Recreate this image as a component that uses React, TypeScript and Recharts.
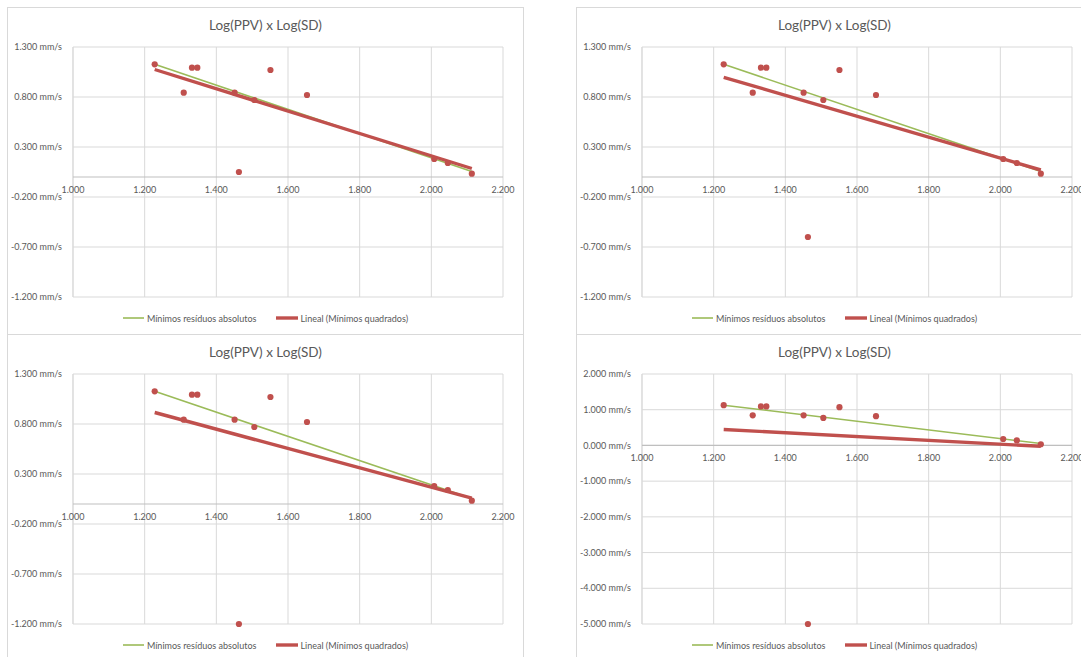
import React from 'react';
import { ScatterChart, Scatter, XAxis, YAxis, CartesianGrid, ReferenceLine, Legend } from 'recharts';

// ---- data ----
const sdLog = [1.228, 1.309, 1.332, 1.347, 1.451, 1.463, 1.506, 1.551, 1.653, 2.008, 2.046, 2.113];
const ppvLogA = [1.127, 0.843, 1.093, 1.093, 0.843, 0.05, 0.77, 1.07, 0.82, 0.18, 0.14, 0.033];
const ppvLogB = [1.127, 0.843, 1.093, 1.093, 0.843, -0.6, 0.77, 1.07, 0.82, 0.18, 0.14, 0.033];
const ppvLogC = [1.127, 0.843, 1.093, 1.093, 0.843, -1.2, 0.77, 1.07, 0.82, 0.18, 0.14, 0.033];
const ppvLogD = [1.127, 0.843, 1.093, 1.093, 0.843, -5.0, 0.77, 1.07, 0.82, 0.18, 0.14, 0.033];
// fitted values at the first and last sdLog
const ladFit = [1.127, 0.055];
const olsFitA = [1.075, 0.085];
const olsFitB = [0.997, 0.07];
const olsFitC = [0.915, 0.058];
const olsFitD = [0.445, -0.025];
const xTicks = [1.0, 1.2, 1.4, 1.6, 1.8, 2.0, 2.2];
const yTicksSmall = [-1.2, -0.7, -0.2, 0.3, 0.8, 1.3];
const yTicksLarge = [-5, -4, -3, -2, -1, 0, 1, 2];
const titleText = 'Log(PPV) x Log(SD)';
const legendLabels = ['Mínimos resíduos absolutos', 'Lineal (Mínimos quadrados)'];

// ---- styles ----
const FONT = 'Lato, "Open Sans", sans-serif';
const TEXT = '#595959';
const GRID = '#d9d9d9';
const RED = '#c0504d';
const GREEN = '#9bbb59';
const W = 517;
const H = 328;
const M = { top: 40, right: 21, bottom: 0, left: 0 };
const X_AXIS_H = 38;
const PLOT_H = H - M.top - M.bottom - X_AXIS_H;

const makeXTick = (yMin: number, yMax: number) => (props: any) => {
  const { x, y, payload } = props;
  const shift = (PLOT_H * (0 - yMin)) / (yMax - yMin);
  return (
    <text x={x} y={y - shift + 12.5} dy="0.35em" textAnchor="middle" fill={TEXT} fontSize={9} fontFamily={FONT}>
      {Number(payload.value).toFixed(3)}
    </text>
  );
};

const YTick = (props: any) => {
  const { x, y, payload } = props;
  return (
    <text x={x} y={y} dy="0.35em" textAnchor="end" fill={TEXT} fontSize={9} fontFamily={FONT}>
      {`${Number(payload.value).toFixed(3)} mm/s`}
    </text>
  );
};

const Dot = (props: any) => <circle cx={props.cx} cy={props.cy} r={3.1} fill={RED} />;
const NoShape = () => <g />;

const LegendContent = () => (
  <div
    style={{
      display: 'flex',
      justifyContent: 'center',
      alignItems: 'center',
      fontFamily: FONT,
      fontSize: 9,
      color: TEXT,
      height: 14,
    }}
  >
    <svg width={21} height={6} style={{ marginRight: 3 }}>
      <line x1={0} y1={3} x2={21} y2={3} stroke={GREEN} strokeWidth={1.6} />
    </svg>
    <span>{legendLabels[0]}</span>
    <svg width={22} height={6} style={{ marginLeft: 20, marginRight: 2 }}>
      <line x1={0} y1={3} x2={22} y2={3} stroke={RED} strokeWidth={3.4} />
    </svg>
    <span>{legendLabels[1]}</span>
  </div>
);

type PanelProps = { left: number; top: number; ppv: number[]; ols: number[]; yTicks: number[] };

const Panel = ({ left, top, ppv, ols, yTicks }: PanelProps) => {
  const yMin = yTicks[0];
  const yMax = yTicks[yTicks.length - 1];
  const points = sdLog.map((x, i) => ({ x, y: ppv[i] }));
  const last = sdLog.length - 1;
  const lad = [
    { x: sdLog[0], y: ladFit[0] },
    { x: sdLog[last], y: ladFit[1] },
  ];
  const trend = [
    { x: sdLog[0], y: ols[0] },
    { x: sdLog[last], y: ols[1] },
  ];
  return (
    <div
      style={{
        position: 'absolute',
        left,
        top,
        width: W,
        height: H,
        boxSizing: 'border-box',
        border: `1px solid ${GRID}`,
        background: '#fff',
      }}
    >
      <div style={{ position: 'absolute', left: -1, top: -1 }}>
        <ScatterChart width={W} height={H} margin={M}>
          <CartesianGrid stroke={GRID} strokeWidth={1} />
          <XAxis
            dataKey="x"
            type="number"
            domain={[xTicks[0], xTicks[xTicks.length - 1]]}
            ticks={xTicks}
            interval={0}
            axisLine={false}
            tickLine={false}
            tickSize={0}
            tickMargin={0}
            height={X_AXIS_H}
            tick={makeXTick(yMin, yMax)}
          />
          <YAxis
            dataKey="y"
            type="number"
            domain={[yMin, yMax]}
            ticks={yTicks}
            interval={0}
            width={66}
            axisLine={false}
            tickLine={false}
            tickSize={0}
            tickMargin={11}
            tick={YTick}
          />
          <ReferenceLine x={xTicks[0]} stroke={GRID} strokeWidth={1} />
          <ReferenceLine y={0} stroke="#bfbfbf" strokeWidth={1.2} />
          <Scatter data={lad} fill={GREEN} line={{ stroke: GREEN, strokeWidth: 1.6 }} shape={NoShape} isAnimationActive={false} legendType="none" />
          <Scatter data={trend} fill={RED} line={{ stroke: RED, strokeWidth: 3.4 }} shape={NoShape} isAnimationActive={false} legendType="none" />
          <Scatter data={points} fill={RED} shape={Dot} isAnimationActive={false} legendType="none" />
          <Legend
            layout="horizontal"
            verticalAlign="middle"
            align="center"
            width={W}
            wrapperStyle={{ top: 304, left: 0, width: W }}
            content={LegendContent}
          />
        </ScatterChart>
      </div>
      <div
        style={{
          position: 'absolute',
          left: -1,
          top: 9,
          width: W,
          textAlign: 'center',
          fontFamily: FONT,
          fontSize: 13.5,
          lineHeight: '16px',
          color: TEXT,
        }}
      >
        {titleText}
      </div>
    </div>
  );
};

export default function App() {
  return (
    <div
      style={{
        position: 'absolute',
        left: 0,
        top: 0,
        width: 1081,
        height: 657,
        overflow: 'hidden',
        background: '#fff',
      }}
    >
      <Panel left={7} top={7} ppv={ppvLogA} ols={olsFitA} yTicks={yTicksSmall} />
      <Panel left={576} top={7} ppv={ppvLogB} ols={olsFitB} yTicks={yTicksSmall} />
      <Panel left={7} top={334} ppv={ppvLogC} ols={olsFitC} yTicks={yTicksSmall} />
      <Panel left={576} top={334} ppv={ppvLogD} ols={olsFitD} yTicks={yTicksLarge} />
    </div>
  );
}
